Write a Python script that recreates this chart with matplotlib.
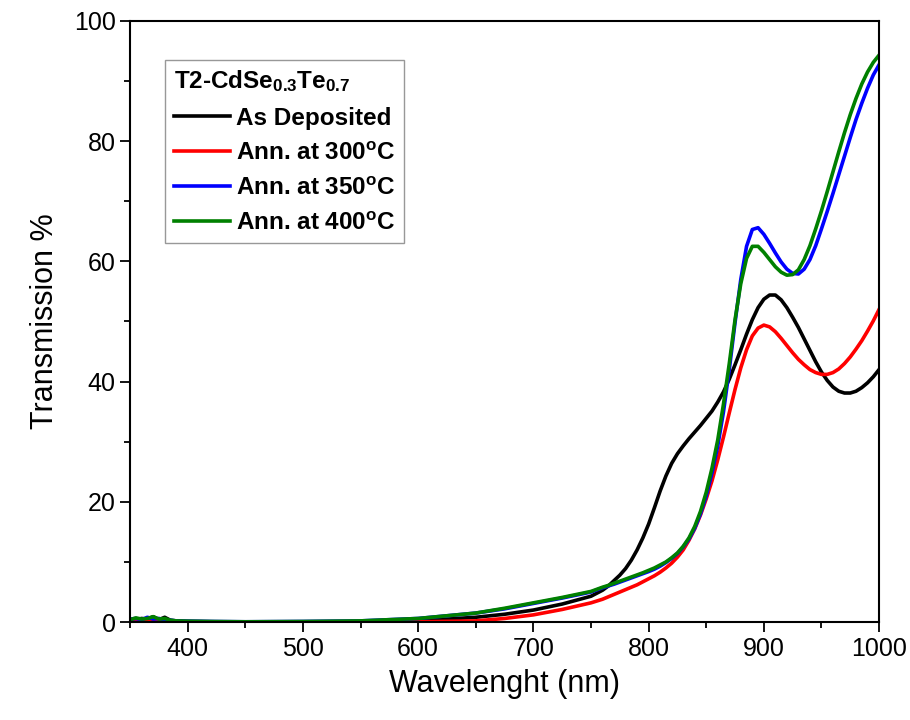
import matplotlib.pyplot as plt
from matplotlib.ticker import MultipleLocator

plt.rcParams['font.family'] = ['Liberation Sans', 'DejaVu Sans']
plt.rcParams['mathtext.fontset'] = 'custom'
plt.rcParams['mathtext.rm'] = 'Liberation Sans:bold'
plt.rcParams['mathtext.bf'] = 'Liberation Sans:bold'
plt.rcParams['mathtext.default'] = 'bf'

# Wavelength grid (nm) and transmission (%) for each film
wavelength = [350, 355, 360, 365, 370, 375, 380, 385, 390, 400, 420, 450, 500, 550,
              600, 650, 675, 700, 725, 750,
              755, 760, 765, 770, 775, 780, 785, 790, 795, 800, 805, 810, 815, 820,
              825, 830, 835, 840, 845, 850, 855, 860, 865, 870, 875, 880, 885, 890,
              895, 900, 905, 910, 915, 920, 925, 930, 935, 940, 945, 950, 955, 960,
              965, 970, 975, 980, 985, 990, 995, 1000]

as_deposited = [0.3, 0.4, 0.6, 0.5, 0.9, 0.4, 0.8, 0.3, 0.2, 0.1, 0.05, 0.0, 0.0, 0.05,
                0.2, 0.8, 1.3, 2.0, 3.0, 4.3,
                4.8, 5.3, 6.0, 6.9, 7.8, 8.9, 10.3, 12.0, 14.0, 16.3, 19.0, 21.8, 24.3, 26.4,
                28.0, 29.3, 30.5, 31.6, 32.7, 33.9, 35.1, 36.6, 38.3, 40.4, 42.8, 45.3, 47.9, 50.3,
                52.3, 53.7, 54.4, 54.4, 53.6, 52.3, 50.7, 49.0, 47.1, 45.2, 43.3, 41.6, 40.2, 39.1,
                38.4, 38.1, 38.1, 38.4, 39.0, 39.8, 40.8, 42.0]

ann_300 = [0.1, 0.2, 0.3, 0.2, 0.4, 0.2, 0.3, 0.1, 0.1, 0.0, 0.0, 0.0, 0.0, 0.0,
           0.05, 0.2, 0.6, 1.2, 2.1, 3.2,
           3.5, 3.8, 4.2, 4.6, 5.0, 5.4, 5.8, 6.2, 6.7, 7.2, 7.7, 8.3, 9.0, 9.8,
           10.8, 12.0, 13.6, 15.5, 17.8, 20.5, 23.5, 27.0, 30.8, 34.8, 38.7, 42.3, 45.3, 47.6,
           48.9, 49.4, 49.1, 48.3, 47.2, 46.0, 44.8, 43.7, 42.8, 42.0, 41.5, 41.2, 41.2, 41.5,
           42.1, 43.0, 44.1, 45.4, 46.8, 48.4, 50.1, 52.0]

ann_350 = [0.5, 0.6, 0.4, 0.8, 0.5, 0.6, 0.4, 0.3, 0.2, 0.15, 0.1, 0.05, 0.1, 0.2,
           0.6, 1.5, 2.2, 3.1, 4.0, 5.0,
           5.35, 5.7, 6.0, 6.3, 6.65, 7.0, 7.35, 7.7, 8.05, 8.4, 8.8, 9.3, 9.9, 10.6,
           11.4, 12.5, 13.8, 15.6, 18.0, 21.0, 24.8, 29.3, 35.0, 42.0, 49.8, 57.0, 62.5, 65.3,
           65.6, 64.5, 63.0, 61.4, 59.9, 58.7, 58.0, 57.9, 58.7, 60.3, 62.6, 65.4, 68.3, 71.3,
           74.4, 77.5, 80.6, 83.6, 86.3, 88.8, 91.0, 92.7]

ann_400 = [0.4, 0.7, 0.5, 0.6, 0.9, 0.5, 0.6, 0.3, 0.2, 0.15, 0.1, 0.05, 0.1, 0.2,
           0.6, 1.5, 2.3, 3.2, 4.1, 5.1,
           5.45, 5.8, 6.1, 6.45, 6.8, 7.15, 7.5, 7.85, 8.2, 8.6, 9.0, 9.5, 10.0, 10.7,
           11.5, 12.6, 14.0, 15.9, 18.4, 21.6, 25.6, 30.3, 36.3, 43.0, 50.3, 56.3, 60.5, 62.5,
           62.5, 61.5, 60.3, 59.1, 58.2, 57.7, 57.8, 58.6, 60.3, 62.6, 65.4, 68.4, 71.6, 74.9,
           78.2, 81.4, 84.4, 87.1, 89.5, 91.5, 93.1, 94.3]

series = [
    ('As Deposited', as_deposited, 'black'),
    (r'Ann. at 300$^{o}$C', ann_300, '#ff0000'),
    (r'Ann. at 350$^{o}$C', ann_350, '#0000ff'),
    (r'Ann. at 400$^{o}$C', ann_400, '#008000'),
]

fig = plt.figure(figsize=(9.1, 7.2), dpi=100)
ax = fig.add_axes([0.143, 0.136, 0.823, 0.835])

for label, values, color in series:
    ax.plot(wavelength, values, color=color, lw=2.6, label=label,
            solid_joinstyle='round')

ax.set_xlim(350, 1000)
ax.set_ylim(0, 100)
ax.xaxis.set_major_locator(MultipleLocator(100))
ax.xaxis.set_minor_locator(MultipleLocator(50))
ax.yaxis.set_major_locator(MultipleLocator(20))
ax.yaxis.set_minor_locator(MultipleLocator(10))
ax.tick_params(which='both', direction='out', width=1.3, labelsize=18)
ax.tick_params(which='major', length=7)
ax.tick_params(which='minor', length=4.5)
for sp in ax.spines.values():
    sp.set_linewidth(1.5)

ax.set_xlabel('Wavelenght (nm)', fontsize=22, labelpad=6)
ax.set_ylabel('Transmission %', fontsize=22, labelpad=10)

leg = ax.legend(loc='upper left', bbox_to_anchor=(0.047, 0.935), fontsize=17.5,
                title=r'T2-CdSe$_{0.3}$Te$_{0.7}$', title_fontsize=17.5,
                alignment='left', frameon=True, fancybox=False, edgecolor='#7f7f7f',
                handlelength=2.3, handletextpad=0.25, labelspacing=0.5,
                borderpad=0.35, borderaxespad=0)
leg.get_frame().set_linewidth(1.0)
leg.get_title().set_fontweight('bold')
for t in leg.get_texts():
    t.set_fontweight('bold')

fig.savefig('out.png', dpi=100)
